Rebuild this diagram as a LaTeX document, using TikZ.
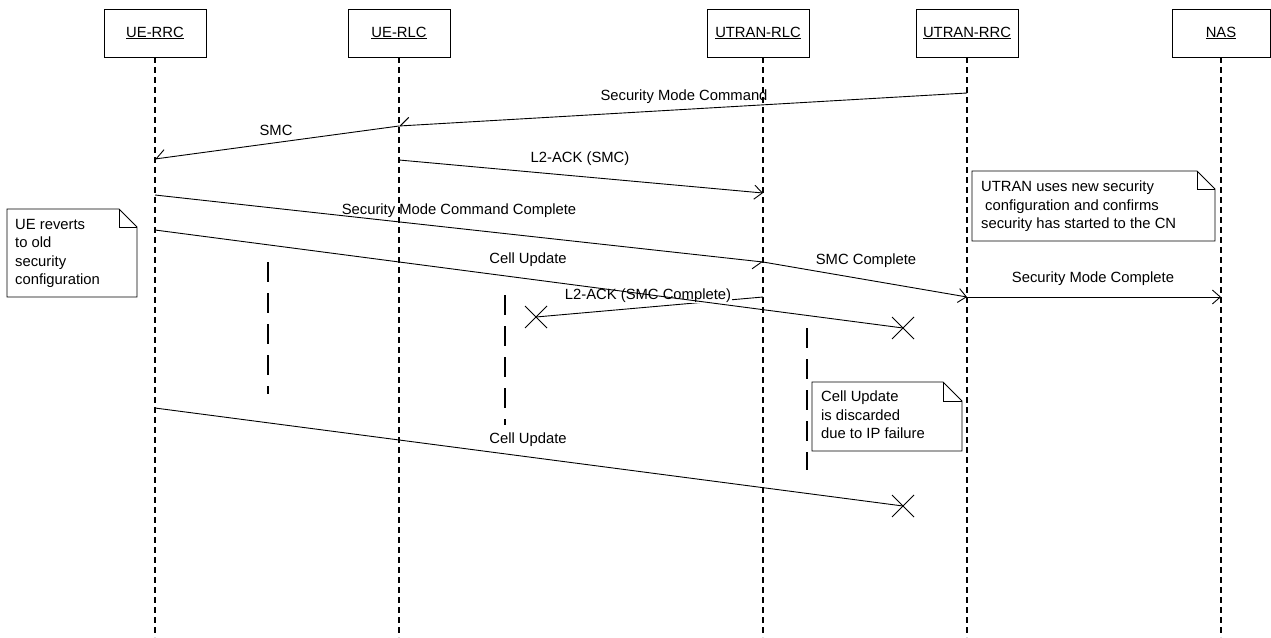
\documentclass[tikz,border=0pt]{standalone}
\usepackage{fontspec}
\setmainfont{Liberation Sans}
\usetikzlibrary{arrows.meta}
\newcommand\myfs{\fontsize{14.8}{18.5}\selectfont}
\tikzset{
  head/.style={draw, line width=0.8pt, minimum width=102pt, minimum height=48pt, inner sep=0pt, font=\myfs},
  life/.style={line width=1.5pt, dash pattern=on 6pt off 4pt},
  bar/.style={line width=2.6pt, dash pattern=on 20pt off 11pt},
  msg/.style={line width=0.9pt},
  full/.style={msg, -{Straight Barb[length=8pt,width=14pt,line width=0.9pt]}},
  half/.style={msg, -{Straight Barb[right,length=9pt,width=16pt,line width=0.9pt]}},
  lbl/.style={font=\myfs, inner sep=0pt, anchor=base},
  notetxt/.style={font=\myfs, inner sep=0pt, anchor=north west, align=left},
  noteline/.style={line width=0.8pt, fill=white},
  xmark/.style={line width=0.9pt},
}
\newcommand\notebox[5]{%
  \draw[noteline] (#1,#2) -- (#3-#5,#2) -- (#3,#2+#5) -- (#3,#4) -- (#1,#4) -- cycle;
  \draw[line width=0.8pt] (#3-#5,#2) -- (#3-#5,#2+#5) -- (#3,#2+#5);}
\begin{document}
\begin{tikzpicture}[x=1pt,y=-1pt]
\useasboundingbox (0,0) rectangle (1271,637);
% headers
\node[head] (uerrc) at (155,33) {\underline{UE-RRC}};
\node[head] (uerlc) at (399,33) {\underline{UE-RLC}};
\node[head] (utrlc) at (758,33) {\underline{UTRAN-RLC}};
\node[head] (utrrc) at (967,33) {\underline{UTRAN-RRC}};
\node[head, minimum width=98pt] (nas) at (1221,33) {\underline{NAS}};
% lifeline bottoms
\coordinate (uerrcB) at (155,637);
\coordinate (uerlcB) at (399,637);
\coordinate (utrlcB) at (763,637);
\coordinate (utrrcB) at (967,637);
\coordinate (nasB) at (1221,637);
\draw[life] (155,57) -- (uerrcB);
\draw[life] (399,57) -- (uerlcB);
\draw[life] (763,57) -- (utrlcB);
\draw[life] (967,57) -- (utrrcB);
\draw[life] (1221,57) -- (nasB);
% thick dashed bars
\coordinate (b1a) at (268,262); \coordinate (b1b) at (268,394);
\coordinate (b2a) at (505,295); \coordinate (b2b) at (505,425);
\coordinate (b3a) at (807,328); \coordinate (b3b) at (807,470);
\draw[bar] (b1a) -- (b1b);
\draw[bar] (b2a) -- (b2b);
\draw[bar] (b3a) -- (b3b);
% message points
\coordinate (p1) at (967,93);
\coordinate (p2) at (399,126);
\coordinate (p3) at (155,159);
\coordinate (p4) at (399,160);
\coordinate (p5) at (763,193);
\coordinate (p6) at (155,195);
\coordinate (p7) at (763,262);
\coordinate (p8) at (967,297);
\coordinate (p9) at (155,230);
\coordinate (x1) at (903,328);
\coordinate (p10) at (763,297);
\coordinate (x2) at (536,317);
\coordinate (p11) at (1221,297);
\coordinate (p12) at (155,408);
\coordinate (x3) at (903,506);
% messages
\draw[half] (p1) -- (p2);
\node[lbl] (l1) at (684,100) {Security Mode Command};
\draw[half] (p2) -- (p3);
\node[lbl] (l2) at (276,135) {SMC};
\draw[full] (p4) -- (p5);
\node[lbl] (l3) at (580,162) {L2-ACK (SMC)};
\draw[half] (p6) -- (p7);
\node[lbl] (l4) at (459,214) {Security Mode Command Complete};
\draw[full] (p7) -- (p8);
\node[lbl] (l5) at (866,264) {SMC Complete};
\draw[full] (p8) -- (p11);
\node[lbl] (l6) at (1093,282) {Security Mode Complete};
\draw[msg] (p10) -- (x2);
\node[lbl, fill=white, inner sep=0.6pt] (l7) at (648,299) {L2-ACK (SMC Complete)};
\draw[msg] (p9) -- (x1);
\node[lbl] (l8) at (528,263) {Cell Update};
\draw[msg] (p12) -- (x3);
\node[lbl] (l9) at (528,443) {Cell Update};
% crosses
\foreach \c in {x1,x2,x3}{
  \draw[xmark] (\c) +(-11,-11) -- +(11,11);
  \draw[xmark] (\c) +(-11,11) -- +(11,-11);
}
% notes
\notebox{972}{171}{1215}{241}{18}
\node[notetxt] (n1) at (981,181) {UTRAN uses new security\\\hspace*{4pt}configuration and confirms\\security has started to the CN};
\notebox{7}{209}{137}{297}{18}
\node[notetxt] (n2) at (15,219) {UE reverts\\to old\\security\\configuration};
\notebox{812}{382}{962}{451}{19}
\node[notetxt] (n3) at (821,391) {Cell Update\\is discarded\\due to IP failure};
\end{tikzpicture}
\end{document}
